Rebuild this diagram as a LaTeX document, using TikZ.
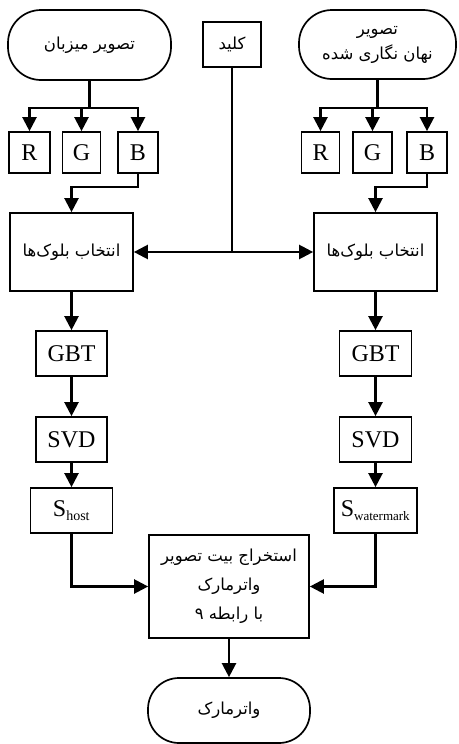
\documentclass[tikz,border=0pt]{standalone}
\usepackage{fontspec}
\setmainfont{Liberation Serif}
\newfontfamily\arabicfont[Script=Arabic]{DejaVu Sans}
\TeXXeTstate=1
\usetikzlibrary{arrows.meta}
\begin{document}
\begin{tikzpicture}[x=1pt,y=-1pt,
  box/.style={draw, line width=1.7pt, inner sep=0pt, font=\fontsize{24}{26}\selectfont},
  term/.style={box, rounded corners=33pt},
  fa/.style={font=\arabicfont\fontsize{16.5}{29}\selectfont, align=center},
  arr/.style={-{Triangle[length=14pt,width=14pt]}, line width=2.3pt},
  ln/.style={line width=2.3pt}]
\useasboundingbox (0,0) rectangle (458,744);
% top row
\node[term, fa, minimum width=163pt, minimum height=70pt] (host) at (89.5,45) {\beginR تصویر میزبان\endR};
\node[box, fa, minimum width=58pt, minimum height=45pt] (key) at (232,44.5) {\beginR کلید\endR};
\node[term, fa, minimum width=157pt, minimum height=69pt] (wm) at (377.5,44.5) {\beginR تصویر\endR\\[-4pt]\beginR نهان نگاری شده\endR};
% RGB
\node[box, minimum width=41pt, minimum height=41pt] (hR) at (29.5,152.5) {R};
\node[box, minimum width=38pt, minimum height=41pt] (hG) at (81.5,152.5) {G};
\node[box, minimum width=40pt, minimum height=41pt] (hB) at (138,152.5) {B};
\node[box, minimum width=38pt, minimum height=41pt] (wR) at (320.5,152.5) {R};
\node[box, minimum width=39pt, minimum height=41pt] (wG) at (372.5,152.5) {G};
\node[box, minimum width=40pt, minimum height=41pt] (wB) at (427,152.5) {B};
% selection
\node[box, fa, minimum width=123pt, minimum height=78pt] (hsel) at (71.5,252) {\beginR انتخاب بلوک‌ها\endR};
\node[box, fa, minimum width=123pt, minimum height=78pt] (wsel) at (375.5,252) {\beginR انتخاب بلوک‌ها\endR};
% GBT / SVD / S
\node[box, minimum width=71pt, minimum height=45pt] (hgbt) at (71.5,353.5) {GBT};
\node[box, minimum width=72pt, minimum height=45pt] (wgbt) at (375.5,353.5) {GBT};
\node[box, minimum width=71pt, minimum height=45pt] (hsvd) at (71.5,439.5) {SVD};
\node[box, minimum width=72pt, minimum height=45pt] (wsvd) at (375.5,439.5) {SVD};
\node[box, minimum width=82pt, minimum height=45pt] (hs) at (71.5,510.5) {S\textsubscript{\fontsize{14}{15}\selectfont host}};
\node[box, minimum width=83pt, minimum height=45pt] (ws) at (375.5,510.5) {S\textsubscript{\fontsize{13}{14}\selectfont watermark}};
% extraction and output
\node[box, fa, minimum width=160pt, minimum height=103pt] (ext) at (229,586.5) {\beginR استخراج بیت تصویر\endR\\\beginR واترمارک\endR\\\beginR با رابطه ۹\endR};
\node[term, fa, minimum width=162pt, minimum height=65pt, rounded corners=31pt] (out) at (229,710.5) {\beginR واترمارک\endR};
% connectors left
\draw[ln] (host.south) -- (host.south |- 0,108) coordinate (hj);
\draw[arr] (hj) -| (hR.north);
\draw[arr] (hj) -| (hG.north);
\draw[arr] (hj) -| (hB.north);
\draw[arr] (hB.south) -- (hB.south |- 0,187) -| (hsel.north);
% connectors right
\draw[ln] (wm.south) -- (wm.south |- 0,108) coordinate (wj);
\draw[arr] (wj) -| (wR.north);
\draw[arr] (wj) -| (wG.north);
\draw[arr] (wj) -| (wB.north);
\draw[arr] (wB.south) -- (wB.south |- 0,187) -| (wsel.north);
% key
\draw[ln] (key.south) -- (key.south |- hsel.east) coordinate (kj);
\draw[arr] (kj) -- (hsel.east);
\draw[arr] (kj) -- (wsel.west);
% chains
\draw[arr] (hsel.south) -- (hgbt.north);
\draw[arr] (wsel.south) -- (wgbt.north);
\draw[arr] (hgbt.south) -- (hsvd.north);
\draw[arr] (wgbt.south) -- (wsvd.north);
\draw[arr] (hsvd.south) -- (hs.north);
\draw[arr] (wsvd.south) -- (ws.north);
\draw[arr] (hs.south) |- (ext.west);
\draw[arr] (ws.south) |- (ext.east);
\draw[arr] (ext.south) -- (out.north);
\end{tikzpicture}
\end{document}
